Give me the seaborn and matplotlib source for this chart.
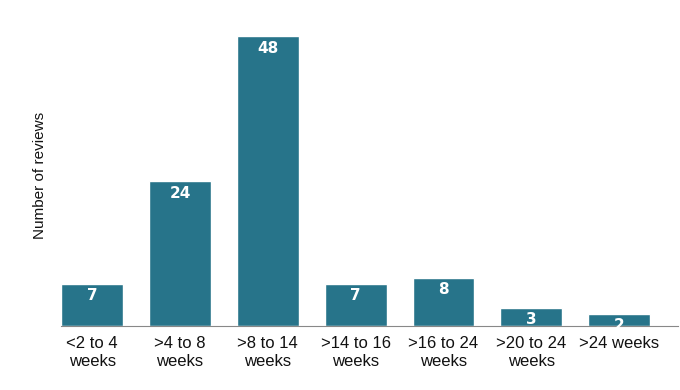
import matplotlib
matplotlib.use("Agg")
import matplotlib.pyplot as plt
import seaborn as sns
import pandas as pd

categories = ["<2 to 4\nweeks", ">4 to 8\nweeks", ">8 to 14\nweeks", ">14 to 16\nweeks",
              ">16 to 24\nweeks", ">20 to 24\nweeks", ">24 weeks"]
reviews = [7, 24, 48, 7, 8, 3, 2]

sns.set_style("white")
plt.rcParams['font.family'] = ['Liberation Sans', 'DejaVu Sans']

df = pd.DataFrame({"cat": categories, "n": reviews})

fig = plt.figure(figsize=(6.8, 3.9), dpi=100)
ax = fig.add_axes([61 / 680, 64 / 390, 617 / 680, 302 / 390])
sns.barplot(data=df, x="cat", y="n", color="#27748a", saturation=1, width=0.705, ax=ax)

# value labels inside the bars, just under the top
for i, v in enumerate(reviews):
    ax.text(i, v - 0.75, str(v), ha="center", va="top", color="white",
            fontsize=11, fontweight="bold", family="DejaVu Sans")

ax.set_xlim(-0.355, 6.67)
ax.set_ylim(0, 50)
sns.despine(ax=ax, left=True, top=True, right=True)
ax.spines["bottom"].set_color("#888888")
ax.spines["bottom"].set_linewidth(0.8)
ax.set_yticks([])
ax.tick_params(axis="x", length=0, labelsize=12, pad=7, labelcolor="#111111")
ax.set_xlabel("")
ax.set_ylabel("Number of reviews", fontsize=11, labelpad=10, color="#111111")
for lbl in ax.get_xticklabels():
    lbl.set_linespacing(1.3)

fig.savefig("out.png", dpi=100)
